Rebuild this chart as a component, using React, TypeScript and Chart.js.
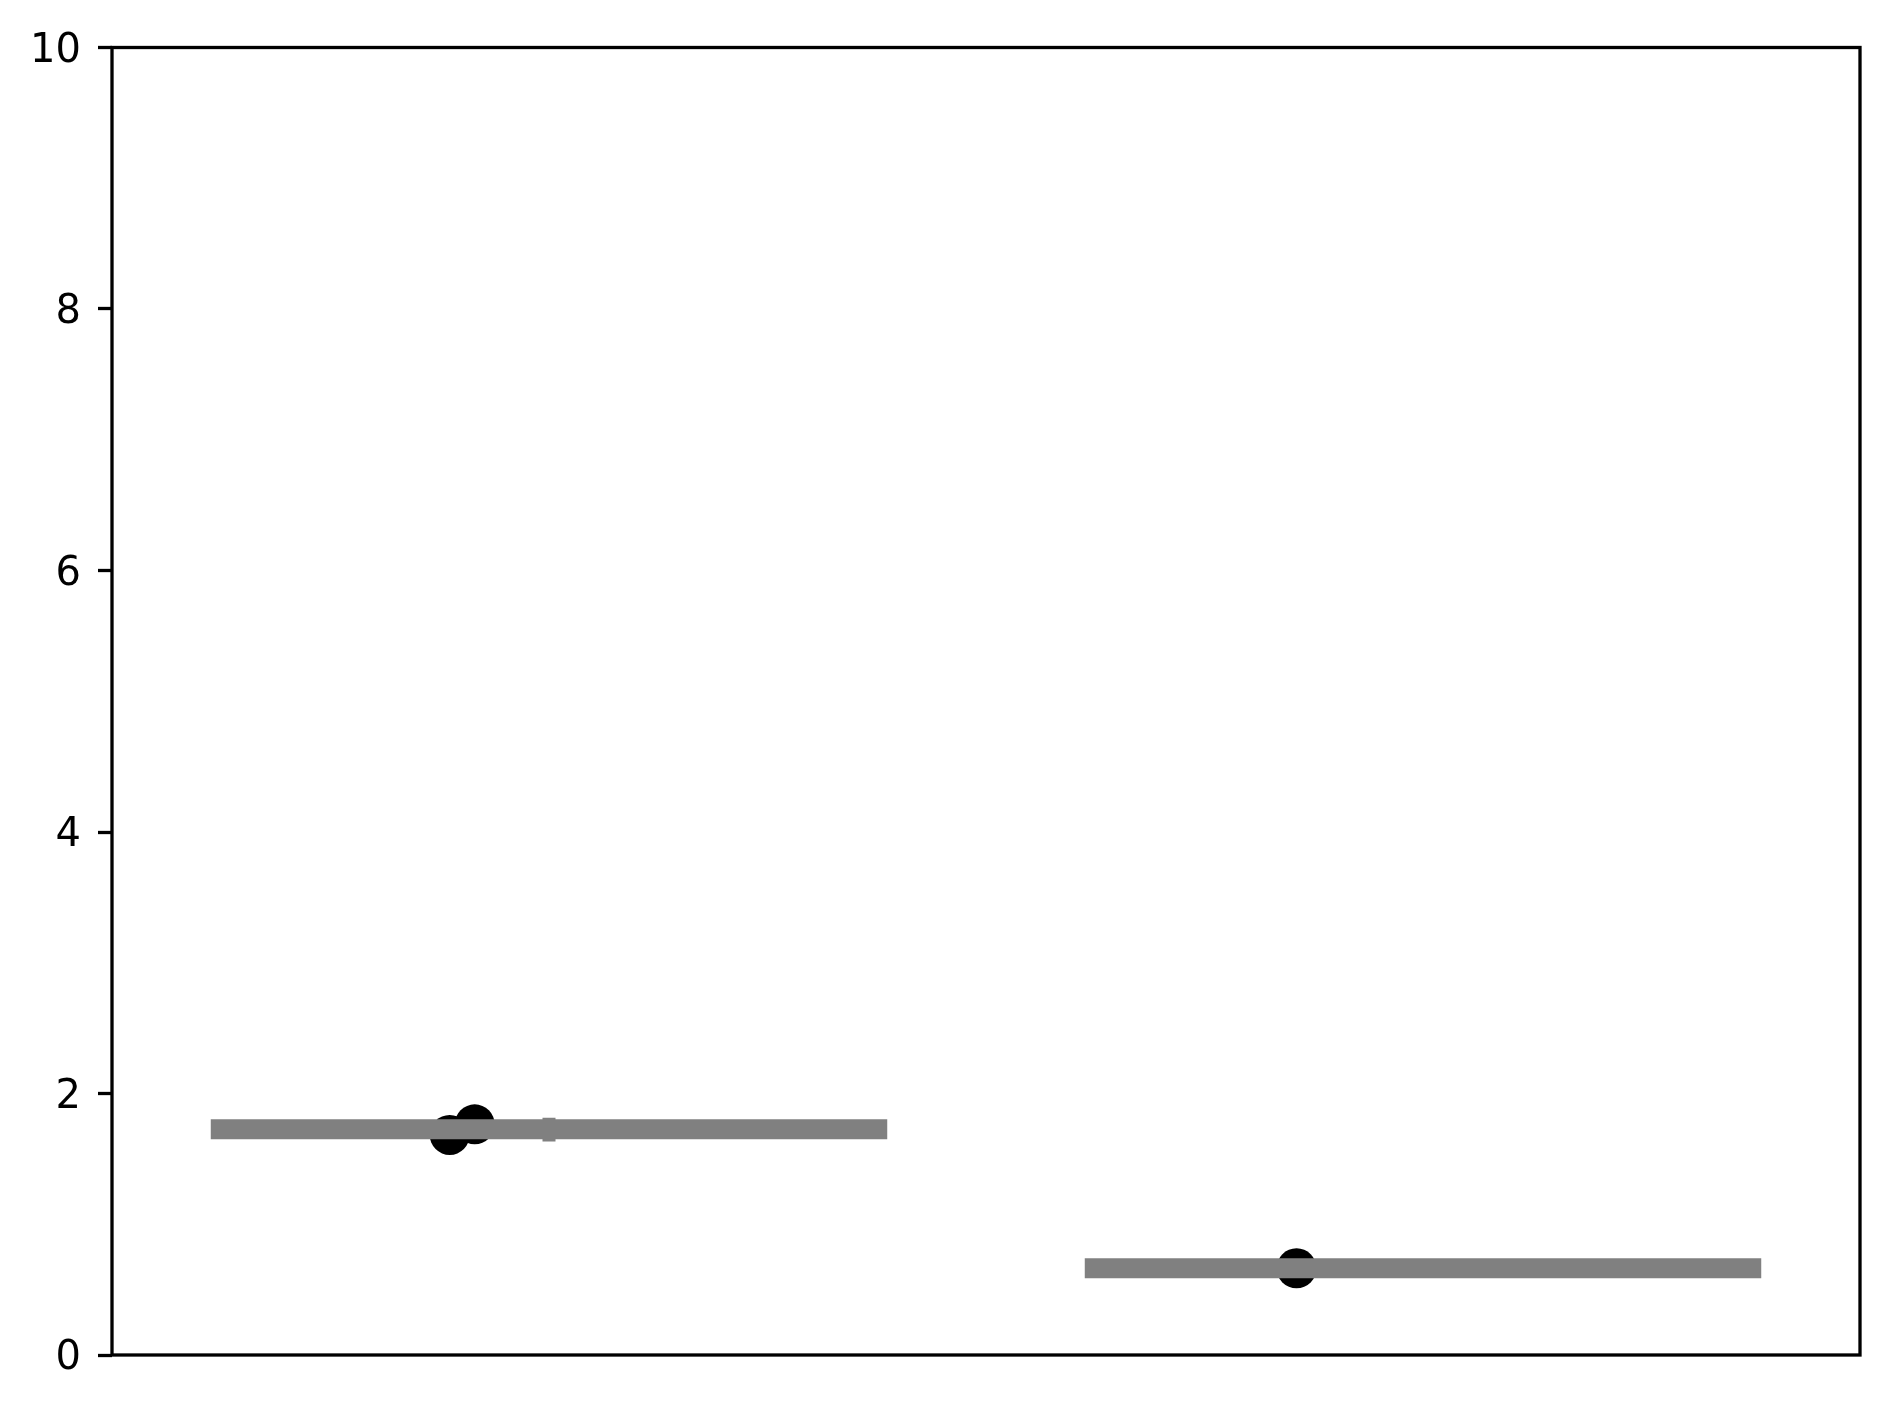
import React, { useEffect, useRef } from "react";
import { Chart, registerables } from "chart.js";

Chart.register(...registerables);

// Category positions (x = 0, 1); no tick labels shown on the x axis
const categories = [0, 1];
const groupMeans = [1.727, 0.664];
const meanHalfWidth = 0.387;

// Individual observations (jittered strip)
const pointGroups = [0, 0, 1];
const pointJitter = [-0.1136, -0.085, -0.1447];
const pointValues = [1.683, 1.764, 0.663];

// Confidence interval for group 0 (group 1 has a single point)
const ciGroup = 0;
const ciLow = 1.683;
const ciHigh = 1.764;

const yTicks = [0, 2, 4, 6, 8, 10];

const framePlugin = {
  id: "frame",
  afterDraw(chart: any) {
    const { ctx, chartArea } = chart;
    ctx.save();
    ctx.strokeStyle = "#000";
    ctx.lineWidth = 3.3;
    ctx.strokeRect(
      chartArea.left,
      chartArea.top,
      chartArea.right - chartArea.left,
      chartArea.bottom - chartArea.top
    );
    ctx.restore();
  },
};

export default function App() {
  const ref = useRef<HTMLCanvasElement | null>(null);

  useEffect(() => {
    if (!ref.current) return;
    const gray = "#808080";

    const meanSets = categories.map((c, i) => ({
      type: "line" as const,
      data: [
        { x: c - meanHalfWidth, y: groupMeans[i] },
        { x: c + meanHalfWidth, y: groupMeans[i] },
      ],
      showLine: true,
      borderColor: gray,
      borderWidth: 20,
      borderCapStyle: "butt" as const,
      pointRadius: 0,
      order: 0,
    }));

    const ciSet = {
      type: "line" as const,
      data: [
        { x: categories[ciGroup], y: ciLow },
        { x: categories[ciGroup], y: ciHigh },
      ],
      showLine: true,
      borderColor: gray,
      borderWidth: 13,
      borderCapStyle: "square" as const,
      pointRadius: 0,
      order: 0,
    };

    const pointSet = {
      type: "scatter" as const,
      data: pointValues.map((v, i) => ({
        x: categories[pointGroups[i]] + pointJitter[i],
        y: v,
      })),
      backgroundColor: "#000",
      borderWidth: 0,
      pointRadius: 20,
      pointBorderWidth: 0,
      pointHoverRadius: 20,
      order: 1,
    };

    const chart = new Chart(ref.current, {
      type: "scatter",
      data: { datasets: [...meanSets, ciSet, pointSet] as any },
      options: {
        animation: false,
        responsive: false,
        devicePixelRatio: 1,
        layout: { padding: { left: 0, right: 30, top: 47.5, bottom: 55 } },
        plugins: { legend: { display: false }, tooltip: { enabled: false } },
        scales: {
          x: {
            type: "linear",
            display: false,
            min: -0.5,
            max: 1.5,
          },
          y: {
            type: "linear",
            min: 0,
            max: 10,
            afterFit(scale: any) {
              scale.width = 112;
            },
            afterBuildTicks(scale: any) {
              scale.ticks = yTicks.map((v) => ({ value: v }));
            },
            ticks: {
              color: "#000",
              padding: 17,
              labelOffset: 4,
              font: { family: "DejaVu Sans", size: 40 },
            },
            grid: {
              drawOnChartArea: false,
              drawTicks: true,
              tickLength: 14,
              tickWidth: 3.3,
              tickColor: "#000",
            },
            border: { display: false },
          },
        },
      },
      plugins: [framePlugin],
    });
    return () => chart.destroy();
  }, []);

  return (
    <div
      style={{
        position: "fixed",
        left: 0,
        top: 0,
        width: 1890,
        height: 1410,
        background: "#fff",
      }}
    >
      <canvas ref={ref} width={1890} height={1410} />
    </div>
  );
}
